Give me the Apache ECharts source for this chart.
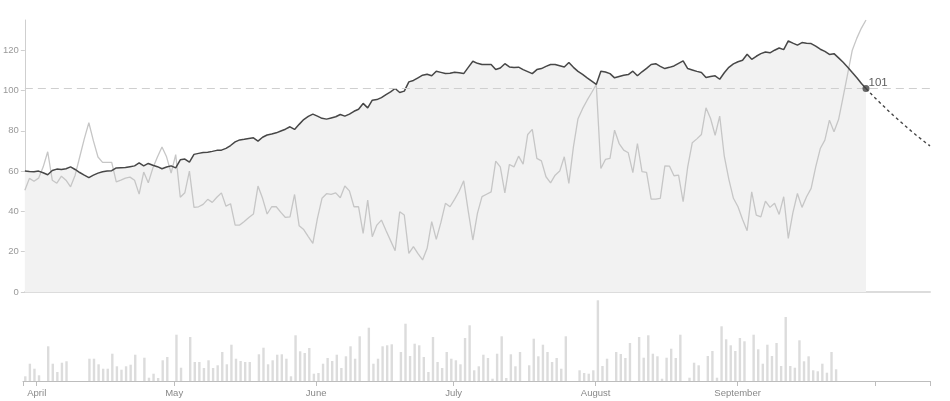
<!DOCTYPE html>
<html><head><meta charset="utf-8">
<script src="https://cdn.jsdelivr.net/npm/echarts@6/dist/echarts.min.js"></script>
<style>html,body{margin:0;padding:0;background:#fff}#c{width:950px;height:401px}</style>
</head><body><div id="c"></div>
<script>
// ---- data (daily, day 0 = startDate) ----
const startDate = [2017, 3, 29];      // year, month, day
const axisEndDay = 198;               // axis runs to this day index

const fitness = [
60.1, 59.8, 59.7, 60, 59.2, 58.2, 60.3, 61, 60.8, 61.2,
62.1, 60.8, 59.3, 58, 56.8, 58, 59, 59.7, 60, 60.2,
61.6, 61.7, 61.8, 62.2, 62.6, 64.1, 62.6, 63.8, 62.9, 62.2,
61.2, 62, 62.6, 61.6, 65.6, 66, 64.5, 68.3, 68.8, 69.2,
69.4, 69.8, 70.3, 70.4, 71.3, 72.7, 74.5, 75.5, 75.8, 76.2,
76.5, 74.9, 76.8, 77.9, 78.4, 79, 79.9, 80.8, 82, 80.7,
83.2, 85.6, 87.2, 88.3, 87.3, 86.2, 85.8, 86.4, 87, 88.1,
87.3, 88.3, 89.7, 90.7, 93.6, 91.4, 95.2, 95.5, 96.5, 98,
99.3, 101, 99, 99.7, 104.3, 105, 106.3, 107.6, 108.1, 107.3,
109.6, 109, 108.4, 108.6, 109.1, 108.8, 108.4, 111.5, 114.5, 113.5,
112.9, 112.9, 112.9, 110.4, 111.2, 113.3, 111.7, 111.4, 111.6, 110.4,
109.4, 108.4, 110.4, 110.9, 112, 112.9, 112.9, 112.3, 111.7, 113.9,
111.5, 109.5, 108, 106.3, 104.7, 103, 109.6, 109.2, 108.4, 106.3,
107, 107.6, 107.9, 109.6, 107.3, 109.3, 111, 112.9, 113.3, 112,
110.9, 111.5, 112.2, 113.5, 114.7, 110.9, 110.2, 109.5, 108.9, 106.5,
107, 107.3, 105.6, 108.8, 111.5, 113.2, 114.3, 115, 118, 115.5,
117, 118.3, 119.1, 118.7, 120, 121.1, 120.3, 124.6, 123.5, 122.5,
123.8, 123.5, 123.3, 122, 120.5, 119.4, 117.9, 118.3, 116.2, 114,
111.6, 108.9, 106.3, 103.5, 101
];

const form = [
50.5, 56.4, 55, 56.5, 62, 69.6, 55.5, 54, 57.5, 55.5,
52.2, 58, 67, 76, 84, 75, 67, 64.3, 64.3, 64.3,
54.7, 55.5, 56.5, 57, 55.5, 48.6, 59.5, 54.2, 61.5, 67,
72, 67.1, 59, 68.2, 47, 49.3, 60, 42, 42.3, 43.5,
46, 44.5, 47, 49.2, 42.6, 43.8, 33.2, 33.2, 35, 37,
38.7, 52.6, 46.5, 38.7, 42.3, 42.3, 39.5, 37, 37.3, 48.4,
32.9, 31, 27.5, 24.1, 36.5, 46.5, 48.8, 48.5, 49.2, 46.8,
52.6, 50.2, 42.3, 42.3, 29.1, 45.6, 27.4, 33.2, 35.7, 30.5,
25.5, 20.5, 39.8, 38.2, 19.2, 22.5, 19, 15.9, 21.7, 34.9,
26.1, 34.4, 44, 42.3, 46, 50, 55.2, 40, 25.8, 39,
47.3, 48.5, 49.7, 65, 62.1, 49.2, 63.3, 62.1, 67.4, 63.5,
78.2, 80.7, 66.3, 65.1, 57.2, 54.2, 58, 60, 67.1, 53.9,
72, 86, 91, 95.2, 99, 103, 61.3, 65.8, 66.3, 80.3,
73.7, 70.4, 69.1, 59.2, 73.7, 59.7, 59.4, 46.1, 46.1, 46.5,
62.6, 62.5, 57.7, 58, 44.8, 62.1, 74.1, 76, 78.2, 91.4,
86.1, 77.8, 87.3, 67.4, 55.9, 46.5, 42.3, 36, 30.4, 49.7,
38.2, 37.3, 45.1, 42, 44, 38.5, 47.3, 26.6, 39.3, 48.9,
42, 47.3, 51.4, 62.1, 71.2, 75.4, 85.3, 79.5, 85.6, 96.8,
108.4, 120, 126, 131, 135
];

const load = [
4.7, 17.3, 12.3, 5.7, null, 34.7, 17.3, 9, 18.3, 19.7,
null, null, null, null, 22.3, 22.3, 16.7, 12.3, 12.3, 27.3,
14.7, 11.3, 14.7, 16.3, 26.3, null, 23.3, 3.3, 7.3, 3,
20.7, 24, null, 46.3, 13.3, null, 44, 19, 19, 13,
20.7, 13, 15.7, 29, 16.7, 36.3, 22.3, 20, 19, 19,
null, 26.7, 33.3, 16.7, 20.7, 26.3, 26.7, 22.3, 4.7, 45.7,
29.7, 28, 33, 7.3, 8, 17.3, 23, 20, 26.3, 13,
24.7, 34.7, 22.3, 44.7, null, 53.3, 17.3, 22.3, 34.7, 35.7,
36.7, null, 29, 57.3, 25, 37.3, 35.7, 24, 9, 44,
19, 13, 29, 22.3, 20.7, 16.7, 43, 55.7, 10.7, 14.7,
26.3, 23, 2.3, 27.3, 44.7, 3, 26.7, 14.7, 29, null,
15.7, 42.3, 24.7, 36.3, 29, 19, 23, 12.3, 44.7, null,
null, 10.7, 8, 7.3, 10.7, 80.7, 15, 22.3, null, 29,
27, 23, 38, null, 44, 23.3, 45.7, 27.3, 24.7, 2.3,
23.3, 32.3, 23, 46.3, null, 3.3, 18.3, 15.7, null, 25,
30, 3.3, 54.7, 41.7, 35.7, 30, 43, 39.7, null, 46.3,
31.7, 17.3, 36.3, 25, 38, 15, 64, 15, 13.3, 40.7,
19.7, 24.7, 10.7, 9.7, 17.3, 8.3, 29, 11.7
];

// projected fitness, starting on the last measured day
const projection = [101, 98.6, 96.3, 94.1, 91.9, 89.7, 87.6, 85.6, 83.6, 81.6, 79.7, 77.8, 76.0, 74.2, 72.5];

const monthTickDates = [[2017, 4, 1], [2017, 5, 1], [2017, 6, 1], [2017, 7, 1], [2017, 8, 1], [2017, 9, 1]];
const monthTickLabels = ['April', 'May', 'June', 'July', 'August', 'September'];
const extraTickDates = [[2017, 10, 1]];

const yTickInterval = 20;
const yMax = 135;

// ---- build (x axis in day units since startDate) ----
const DAY = 86400000;
const t0 = Date.UTC(startDate[0], startDate[1] - 1, startDate[2]);
const dayIndex = a => Math.round((Date.UTC(a[0], a[1] - 1, a[2]) - t0) / DAY);

const fitnessData = fitness.map((v, i) => [i, v]);
const formData = form.map((v, i) => [i, v]);
const lastIdx = fitness.length - 1;
const projData = projection.map((v, i) => [lastIdx + i, v]);
const loadData = load.map((v, i) => [i + 0.5, v]);

const monthDays = monthTickDates.map(dayIndex);
const tickDays = [0].concat(monthDays, extraTickDates.map(dayIndex), [axisEndDay]);

const font = 'Helvetica Neue, Helvetica, Arial, Liberation Sans, sans-serif';

const chart = echarts.init(document.getElementById('c'), null, {renderer: 'canvas'});
chart.setOption({
  animation: false,
  textStyle: {fontFamily: font},
  grid: [
    {left: 23, right: 20, top: 20, height: 272},
    {left: 23, right: 20, top: 297, height: 84}
  ],
  xAxis: [
    {type: 'value', gridIndex: 0, min: 0, max: axisEndDay,
     axisLine: {show: true, lineStyle: {color: '#dcdcdc', width: 2}},
     axisTick: {show: false}, axisLabel: {show: false}, splitLine: {show: false}},
    {type: 'value', gridIndex: 1, min: 0, max: axisEndDay,
     axisLine: {show: true, lineStyle: {color: '#bdbdbd', width: 1}},
     axisTick: {show: true, customValues: tickDays, length: 5, lineStyle: {color: '#bdbdbd'}},
     axisLabel: {show: true, customValues: monthDays, color: '#888', fontSize: 9.5, margin: 7,
       formatter: v => { const k = monthDays.indexOf(Math.round(v)); return k >= 0 ? monthTickLabels[k] : ''; }},
     splitLine: {show: false}}
  ],
  yAxis: [
    {type: 'value', gridIndex: 0, min: 0, max: yMax, interval: yTickInterval,
     axisLine: {show: true, lineStyle: {color: '#cfcfcf'}},
     axisTick: {show: true, length: 4, lineStyle: {color: '#cfcfcf'}},
     axisLabel: {color: '#999', fontSize: 9.5, margin: 6, showMaxLabel: false},
     splitLine: {show: false}},
    {type: 'value', gridIndex: 1, min: 0, max: 84, show: false}
  ],
  series: [
    {type: 'line', xAxisIndex: 0, yAxisIndex: 0, data: fitnessData, symbol: 'none', silent: true,
     lineStyle: {width: 0}, areaStyle: {color: '#f2f2f2', opacity: 1}, z: 1},
    {type: 'line', xAxisIndex: 0, yAxisIndex: 0, data: formData, symbol: 'none', silent: true,
     lineStyle: {color: '#c6c6c6', width: 1.3}, z: 2},
    {type: 'line', xAxisIndex: 0, yAxisIndex: 0, data: projData, symbol: 'none', silent: true,
     lineStyle: {color: '#444', width: 1.4, type: [3, 3]}, z: 3},
    {type: 'line', xAxisIndex: 0, yAxisIndex: 0, data: fitnessData, symbol: 'none', silent: true,
     lineStyle: {color: '#474747', width: 1.5}, z: 4,
     markLine: {silent: true, symbol: ['none', 'none'], label: {show: false},
       lineStyle: {color: '#cfcfcf', width: 1, type: [8, 5]},
       data: [{yAxis: fitness[lastIdx]}]}},
    {type: 'scatter', xAxisIndex: 0, yAxisIndex: 0, data: [fitnessData[lastIdx]], symbol: 'circle', symbolSize: 7,
     itemStyle: {color: '#444'}, z: 5, silent: true,
     label: {show: true, position: 'right', distance: 0, offset: [-1, -6], color: '#333', fontSize: 11.5,
       formatter: p => String(Math.round(p.value[1]))}},
    {type: 'bar', xAxisIndex: 1, yAxisIndex: 1, data: loadData, barWidth: 2.4, silent: true,
     itemStyle: {color: '#dcdcdc'}}
  ]
});
</script></body></html>
